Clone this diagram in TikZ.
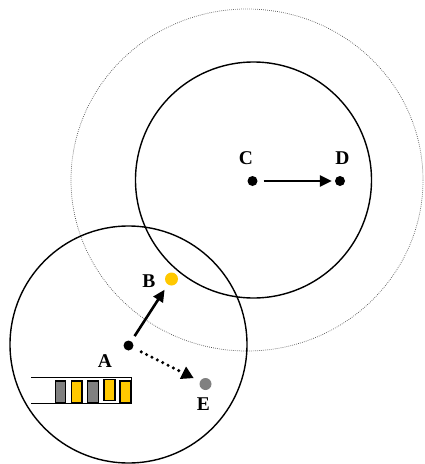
\documentclass[tikz,border=0pt]{standalone}
\usepackage{fontspec}
\setmainfont{Liberation Serif}
\usetikzlibrary{arrows.meta}
\definecolor{gold}{HTML}{FFC800}
\definecolor{midgray}{HTML}{808080}
\tikzset{
  dot/.style={circle, fill=black, inner sep=0pt, minimum size=10pt},
  lbl/.style={font=\fontsize{19.5}{19.5}\selectfont\bfseries, inner sep=0pt},
  ring/.style={draw=black, line width=1.4pt},
  outerring/.style={draw=black!70, line width=0.7pt, dash pattern=on 0.7pt off 1.3pt},
  arr/.style={line width=2.6pt, -{Triangle[length=12pt,width=11pt]}},
  dotarr/.style={line width=3.4pt, line cap=round, dash pattern=on 0pt off 6pt,
    -{Triangle[length=12pt,width=13pt,line cap=butt]}},
  cell/.style={draw=black, line width=1.6pt},
}
\begin{document}
\begin{tikzpicture}[x=1pt,y=-1pt]
\useasboundingbox (0,0) rectangle (425,464);
% coverage areas
\draw[outerring] (247,180) ellipse [x radius=176, y radius=171];
\draw[ring] (253.5,180) circle [radius=118];
\draw[ring] (128.5,344.5) circle [radius=118.5];
% stations
\node[dot] (C) at (252.5,181) {};
\node[dot] (D) at (340,181) {};
\node[dot] (A) at (128.5,345.5) {};
\node[dot, fill=gold, minimum size=13pt] (B) at (171.5,279) {};
\node[dot, fill=midgray, minimum size=12pt] (E) at (205.5,384) {};
% labels
\node[lbl] (lC) at (246,158.5) {C};
\node[lbl] (lD) at (342.5,158.5) {D};
\node[lbl] (lB) at (149,281) {B};
\node[lbl] (lA) at (105,361) {A};
\node[lbl] (lE) at (203.5,404) {E};
% links
\draw[arr, shorten <=6pt, shorten >=3pt] (C) -- (D);
\draw[arr, shorten <=6pt, shorten >=6pt] (A) -- (B);
\draw[dotarr, shorten <=9pt, shorten >=7pt] (A) -- (E);
% queue buffer
\draw[line width=1pt] (31,377.5) -- (131,377.5) -- (131,403) -- (31,403);
\draw[cell, fill=midgray] (55.5,381) rectangle (65.5,403);
\draw[cell, fill=gold] (71.5,381) rectangle (82,403);
\draw[cell, fill=midgray] (87.5,381) rectangle (98.5,403);
\draw[cell, fill=gold] (104,379.5) rectangle (115,400.5);
\draw[cell, fill=gold] (120,381) rectangle (130.5,403);
\end{tikzpicture}
\end{document}
